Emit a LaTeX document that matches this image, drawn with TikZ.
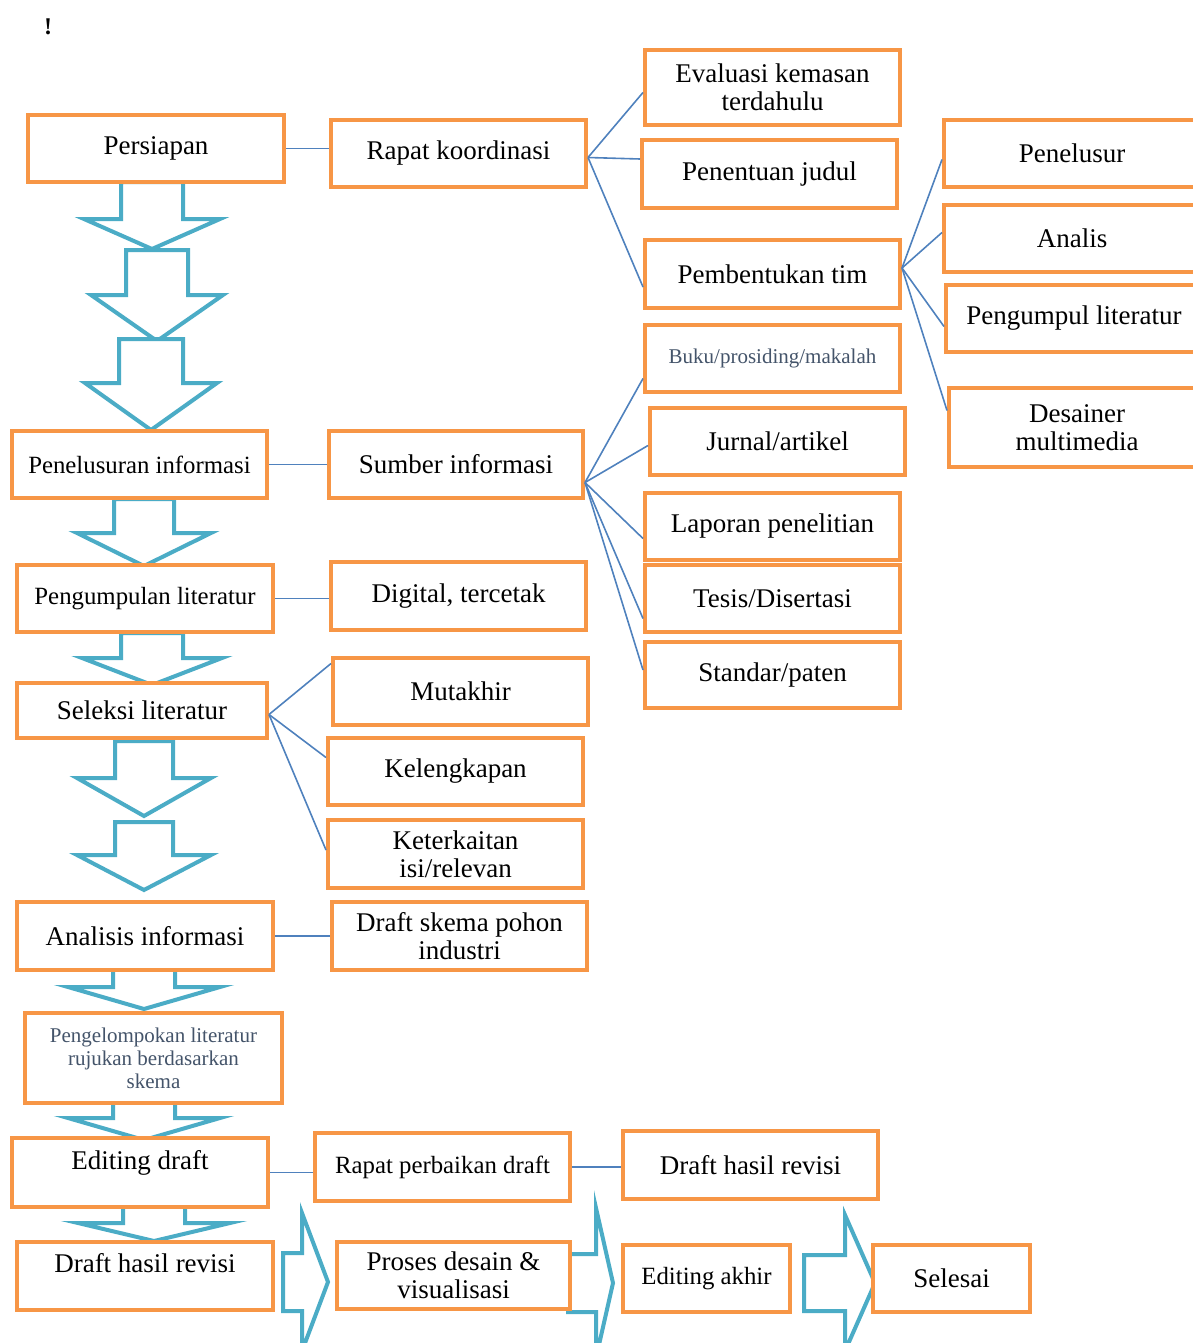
\documentclass[tikz,border=0pt]{standalone}
\usepackage{fontspec}
\setmainfont{Liberation Serif}
\usetikzlibrary{calc}
\definecolor{boxorange}{RGB}{247,150,70}
\definecolor{flowteal}{RGB}{75,172,198}
\definecolor{linkblue}{RGB}{79,129,189}
\definecolor{noteslate}{RGB}{68,84,106}

\newcommand{\flowdown}[6]{%
  \draw[blockarrow] (#1-#2,#4) -- (#1-#2,#5) -- (#1-#3,#5) -- (#1,#6)
    -- (#1+#3,#5) -- (#1+#2,#5) -- (#1+#2,#4) -- cycle;}
\newcommand{\flowright}[6]{%
  \draw[blockarrow] (#4,#1-#2) -- (#5,#1-#2) -- (#5,#1-#3) -- (#6,#1)
    -- (#5,#1+#3) -- (#5,#1+#2) -- (#4,#1+#2) -- cycle;}

\begin{document}
\begin{tikzpicture}[x=0.5pt, y=-0.5pt,
  box/.style={draw=boxorange, line width=2pt, fill=white, align=center, inner sep=1pt,
    font=\fontsize{13.5}{14}\selectfont},
  tightbox/.style={box, font=\fontsize{12.4}{14}\selectfont},
  smallbox/.style={box, text=noteslate, font=\fontsize{10.5}{11.5}\selectfont},
  boxsize/.style 2 args={minimum width=#1*0.5pt, minimum height=#2*0.5pt},
  link/.style={draw=linkblue, line width=0.8pt},
  blockarrow/.style={draw=flowteal, line width=2pt, fill=white}]
  \useasboundingbox (0,0) rectangle (1193,1343);
  \clip (0,0) rectangle (1193,1343);

  \flowdown{152}{31}{68}{182}{219}{249}
  \flowdown{157}{31}{66}{250}{295}{341}
  \flowdown{151}{32}{66}{339}{383}{430}
  \flowdown{144}{30}{67}{499}{533}{566}
  \flowdown{152}{31}{70}{633}{658}{685}
  \flowdown{144}{29}{67}{741}{778}{816}
  \flowdown{144}{29}{67}{822}{855}{890}
  \flowdown{144}{31}{76}{968}{987}{1009}
  \flowdown{144}{31}{76}{1100}{1118}{1140}
  \flowdown{154}{31}{76}{1205}{1223}{1241}
  \flowright{1282}{29}{69}{283}{302}{328}
  \flowright{1283}{29}{75}{568}{596}{613}
  \flowright{1283}{28}{68}{804}{845}{875}

  \node[font=\bfseries\fontsize{12}{12}\selectfont] (mark) at (48,27) {!};

  \node[box, boxsize={256}{67}] (persiapan) at (156,148.5) {Persiapan};
  \node[box, boxsize={255}{67}] (rapat) at (458.5,153.5) {Rapat koordinasi};
  \node[box, boxsize={255}{75}] (evaluasi) at (772.5,87.5) {Evaluasi kemasan\\terdahulu};
  \node[box, boxsize={255}{68}] (judul) at (769.5,174) {Penentuan judul};
  \node[box, boxsize={255}{68}] (tim) at (772.5,274) {Pembentukan tim};
  \node[box, boxsize={256}{67}] (penelusur) at (1072,153.5) {Penelusur};
  \node[box, boxsize={256}{67}] (analis) at (1072,238.5) {Analis};
  \node[box, boxsize={256}{67}] (pengumpul) at (1074,318.5) {Pengumpul literatur};
  \node[box, boxsize={256}{79}] (desainer) at (1077,427.5) {Desainer\\multimedia};
  \node[smallbox, boxsize={255}{67}] (buku) at (772.5,358.5) {Buku/prosiding/makalah};
  \node[box, boxsize={255}{67}] (jurnal) at (777.5,441.5) {Jurnal/artikel};
  \node[box, boxsize={255}{67}] (laporan) at (772.5,526.5) {Laporan penelitian};
  \node[box, boxsize={255}{67}] (tesis) at (772.5,598.5) {Tesis/Disertasi};
  \node[box, boxsize={255}{66}] (standar) at (772.5,675) {Standar/paten};
  \node[tightbox, boxsize={255}{67}] (penelusuran) at (139.5,464.5) {Penelusuran informasi};
  \node[box, boxsize={254}{67}] (sumber) at (456,464.5) {Sumber informasi};
  \node[tightbox, boxsize={256}{67}] (pengumpulan) at (145,598.5) {Pengumpulan literatur};
  \node[box, boxsize={255}{68}] (digital) at (458.5,596) {Digital, tercetak};
  \node[box, boxsize={250}{55}] (seleksi) at (142,710.5) {Seleksi literatur};
  \node[box, boxsize={255}{67}] (mutakhir) at (460.5,691.5) {Mutakhir};
  \node[box, boxsize={255}{67}] (kelengkapan) at (455.5,771.5) {Kelengkapan};
  \node[box, boxsize={255}{68}] (keterkaitan) at (455.5,854) {Keterkaitan\\isi/relevan};
  \node[box, boxsize={256}{68}] (analisis) at (145,936) {Analisis informasi};
  \node[box, boxsize={255}{68}] (skema) at (459.5,936) {Draft skema pohon\\industri};
  \node[smallbox, boxsize={257}{90}] (kelompok) at (153.5,1058) {Pengelompokan literatur\\rujukan berdasarkan\\skema};
  \node[box, boxsize={256}{69}, text depth=13pt] (editdraft) at (140,1172.5) {Editing draft};
  \node[tightbox, boxsize={255}{68}] (rapatdraft) at (442.5,1167) {Rapat perbaikan draft};
  \node[box, boxsize={255}{68}] (revisikanan) at (750.5,1165) {Draft hasil revisi};
  \node[box, boxsize={256}{68}, text depth=13pt] (revisikiri) at (145,1276) {Draft hasil revisi};
  \node[box, boxsize={233}{67}] (proses) at (453.5,1275.5) {Proses desain \&\\visualisasi};
  \node[tightbox, boxsize={167}{67}] (editakhir) at (706.5,1278.5) {Editing akhir};
  \node[box, boxsize={157}{67}] (selesai) at (951.5,1278.5) {Selesai};

  \path[link]
  (persiapan.east) edge (persiapan.east -| rapat.west)
  (penelusuran.east) edge (penelusuran.east -| sumber.west)
  (pengumpulan.east) edge (pengumpulan.east -| digital.west)
  (analisis.east) edge (analisis.east -| skema.west)
  (editdraft.east) edge (editdraft.east -| rapatdraft.west)
  (rapatdraft.east) edge (rapatdraft.east -| revisikanan.west)
  ;
  \path[link]
  ($(rapat.east)+(0,4)$) edge ($(evaluasi.west)+(0,5)$)
  ($(rapat.east)+(0,4)$) edge ($(judul.west)+(0,-15)$)
  ($(rapat.east)+(0,4)$) edge ($(tim.west)+(0,13)$)
  ($(tim.east)+(0,-6)$) edge ($(penelusur.west)+(0,6)$)
  ($(tim.east)+(0,-6)$) edge ($(analis.west)+(0,-6)$)
  ($(tim.east)+(0,-6)$) edge ($(pengumpul.west)+(0,8)$)
  ($(tim.east)+(0,-6)$) edge ($(desainer.west)+(0,-17)$)
  ;
  \path[link]
  ($(sumber.east)+(0,18)$) edge ($(buku.west)+(0,20)$)
  ($(sumber.east)+(0,18)$) edge ($(jurnal.west)+(0,4)$)
  ($(sumber.east)+(0,18)$) edge ($(laporan.west)+(0,12)$)
  ($(sumber.east)+(0,18)$) edge ($(tesis.west)+(0,20)$)
  ($(sumber.east)+(0,18)$) edge ($(standar.west)+(0,-5)$)
  ($(seleksi.east)+(0,4)$) edge ($(mutakhir.west)+(0,-28)$)
  ($(seleksi.east)+(0,4)$) edge ($(kelengkapan.west)+(0,-14)$)
  ($(seleksi.east)+(0,4)$) edge ($(keterkaitan.west)+(0,-4)$)
  ;
\end{tikzpicture}
\end{document}
